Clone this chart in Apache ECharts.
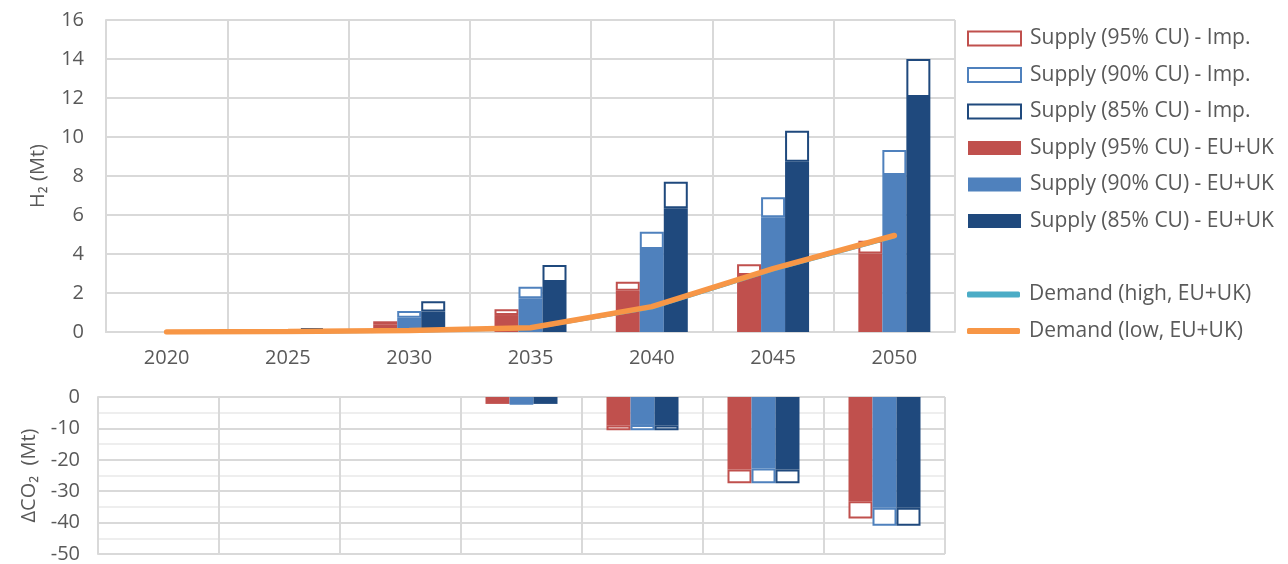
<!DOCTYPE html>
<html><head><meta charset="utf-8">
<script src="https://cdn.jsdelivr.net/npm/echarts@6/dist/echarts.min.js"></script>
<style>html,body{margin:0;padding:0;background:#fff}#c{width:1288px;height:564px}</style>
</head><body><div id="c"></div>
<script>
const years = ['2020','2025','2030','2035','2040','2045','2050'];
const h2Ticks = [0,2,4,6,8,10,12,14,16];
const co2Ticks = [0,-10,-20,-30,-40,-50];
// H2 supply (Mt): EU+UK production and imports per capacity-utilisation scenario
const h2EU95  = [null, null, 0.40, 0.87, 2.12, 2.92, 4.03];
const h2Imp95 = [null, null, 0.15, 0.30, 0.46, 0.55, 0.65];
const h2EU90  = [null, 0.05, 0.73, 1.73, 4.26, 5.88, 8.05];
const h2Imp90 = [null, 0.05, 0.35, 0.59, 0.88, 1.03, 1.28];
const h2EU85  = [null, 0.10, 1.05, 2.56, 6.34, 8.73, 12.05];
const h2Imp85 = [null, 0.10, 0.53, 0.87, 1.37, 1.59, 1.95];
const demandHigh = [0, 0.01, 0.06, 0.20, 1.25, 3.20, 4.90];
const demandLow  = [0, 0.02, 0.08, 0.22, 1.30, 3.25, 4.95];
// Delta CO2 (Mt)
const co2EU95  = [null, null, null, -2.2, -9.1, -23.1, -33.2];
const co2Imp95 = [null, null, null, null, -1.5, -4.4, -5.5];
const co2EU90  = [null, null, null, -2.1, -8.9, -22.8, -35.3];
const co2Imp90 = [null, null, null, -0.1, -1.7, -4.7, -5.7];
const co2EU85  = [null, null, null, -2.2, -9.1, -23.1, -35.3];
const co2Imp85 = [null, null, null, null, -1.5, -4.4, -5.7];

const RED = '#c0504d', LB = '#4f81bd', DB = '#1f497d', TEAL = '#4bacc6', ORANGE = '#f79646';
const TXT = '#595959', GRID = '#d9d9d9';
const FONT = 'Open Sans';

const names = {
  imp95: 'Supply (95% CU) - Imp.', imp90: 'Supply (90% CU) - Imp.', imp85: 'Supply (85% CU) - Imp.',
  eu95: 'Supply (95% CU) - EU+UK', eu90: 'Supply (90% CU) - EU+UK', eu85: 'Supply (85% CU) - EU+UK',
  dh: 'Demand (high, EU+UK)', dl: 'Demand (low, EU+UK)'
};

function bar(name, data, color, imp, stack, axis) {
  return {
    type: 'bar', name, data, stack: stack + axis, xAxisIndex: axis, yAxisIndex: axis,
    barWidth: 24, barGap: '0%',
    itemStyle: imp ? { color: '#fff', borderColor: color, borderWidth: 2 } : { color: color },
    emphasis: { disabled: true }
  };
}

const series = [];
[[h2EU95,h2Imp95,co2EU95,co2Imp95,RED,'95','r'],
 [h2EU90,h2Imp90,co2EU90,co2Imp90,LB,'90','b'],
 [h2EU85,h2Imp85,co2EU85,co2Imp85,DB,'85','d']].forEach(([e,i,ce,ci,c,k,s]) => {
  series.push(bar(names['eu'+k], e, c, false, s, 0));
  series.push(bar(names['imp'+k], i, c, true, s, 0));
  series.push(bar(names['eu'+k], ce, c, false, s, 1));
  series.push(bar(names['imp'+k], ci, c, true, s, 1));
});
series.push({ type: 'line', name: names.dh, data: demandHigh, xAxisIndex: 0, yAxisIndex: 0, symbol: 'none', z: 5,
  lineStyle: { color: TEAL, width: 4, cap: 'round' }, itemStyle: { color: TEAL } });
series.push({ type: 'line', name: names.dl, data: demandLow, xAxisIndex: 0, yAxisIndex: 0, symbol: 'none', z: 6,
  lineStyle: { color: ORANGE, width: 5.5, cap: 'round' }, itemStyle: { color: ORANGE } });

const chart = echarts.init(document.getElementById('c'));
chart.setOption({
  animation: false,
  textStyle: { fontFamily: FONT },
  grid: [
    { left: 106, right: 333, top: 20, bottom: 232 },
    { left: 98, right: 343, top: 397, bottom: 7 }
  ],
  xAxis: [
    { type: 'category', gridIndex: 0, data: years, boundaryGap: true,
      axisLine: { lineStyle: { color: GRID, width: 2 } }, axisTick: { show: false },
      axisLabel: { color: TXT, fontSize: 20, fontFamily: FONT, margin: 16 },
      splitLine: { show: true, lineStyle: { color: GRID, width: 2 } } },
    { type: 'category', gridIndex: 1, data: years, boundaryGap: true, position: 'top',
      axisLine: { show: false }, axisTick: { show: false }, axisLabel: { show: false },
      splitLine: { show: true, lineStyle: { color: GRID, width: 2 } } }
  ],
  yAxis: [
    { type: 'value', gridIndex: 0, min: h2Ticks[0], max: h2Ticks[h2Ticks.length-1], interval: 2,
      name: 'H\u2082 (Mt)', nameLocation: 'middle', nameGap: 58, nameRotate: 90,
      nameTextStyle: { color: TXT, fontSize: 20, fontFamily: FONT },
      axisLine: { show: true, lineStyle: { color: GRID, width: 2 } }, axisTick: { show: false },
      axisLabel: { color: TXT, fontSize: 20, fontFamily: FONT, margin: 22 },
      splitLine: { lineStyle: { color: GRID, width: 2 } } },
    { type: 'value', gridIndex: 1, min: co2Ticks[co2Ticks.length-1], max: co2Ticks[0], interval: 10,
      name: '\u0394CO\u2082  (Mt)', nameLocation: 'middle', nameGap: 56, nameRotate: 90,
      nameTextStyle: { color: TXT, fontSize: 20, fontFamily: FONT },
      axisLine: { show: true, lineStyle: { color: GRID, width: 2 } }, axisTick: { show: false },
      axisLabel: { color: TXT, fontSize: 20, fontFamily: FONT, margin: 18 },
      splitLine: { lineStyle: { color: GRID, width: 2 } },
      minorTick: { show: false, splitNumber: 2 },
      minorSplitLine: { show: true, lineStyle: { color: '#eeeeee', width: 2 } } }
  ],
  legend: [
    { orient: 'vertical', left: 962, top: 23, itemWidth: 53, itemHeight: 14, itemGap: 15.5, icon: 'rect',
      data: [names.imp95, names.imp90, names.imp85, names.eu95, names.eu90, names.eu85],
      textStyle: { color: TXT, fontSize: 21, fontFamily: FONT, lineHeight: 21, padding: [0,0,0,4] },
      selectedMode: false },
    { orient: 'vertical', left: 962, top: 279, itemWidth: 53, itemHeight: 6, itemGap: 15.5, icon: 'roundRect',
      data: [names.dh, names.dl],
      textStyle: { color: TXT, fontSize: 21, fontFamily: FONT, lineHeight: 21, padding: [0,0,0,4] },
      selectedMode: false }
  ],
  series
});
</script></body></html>
